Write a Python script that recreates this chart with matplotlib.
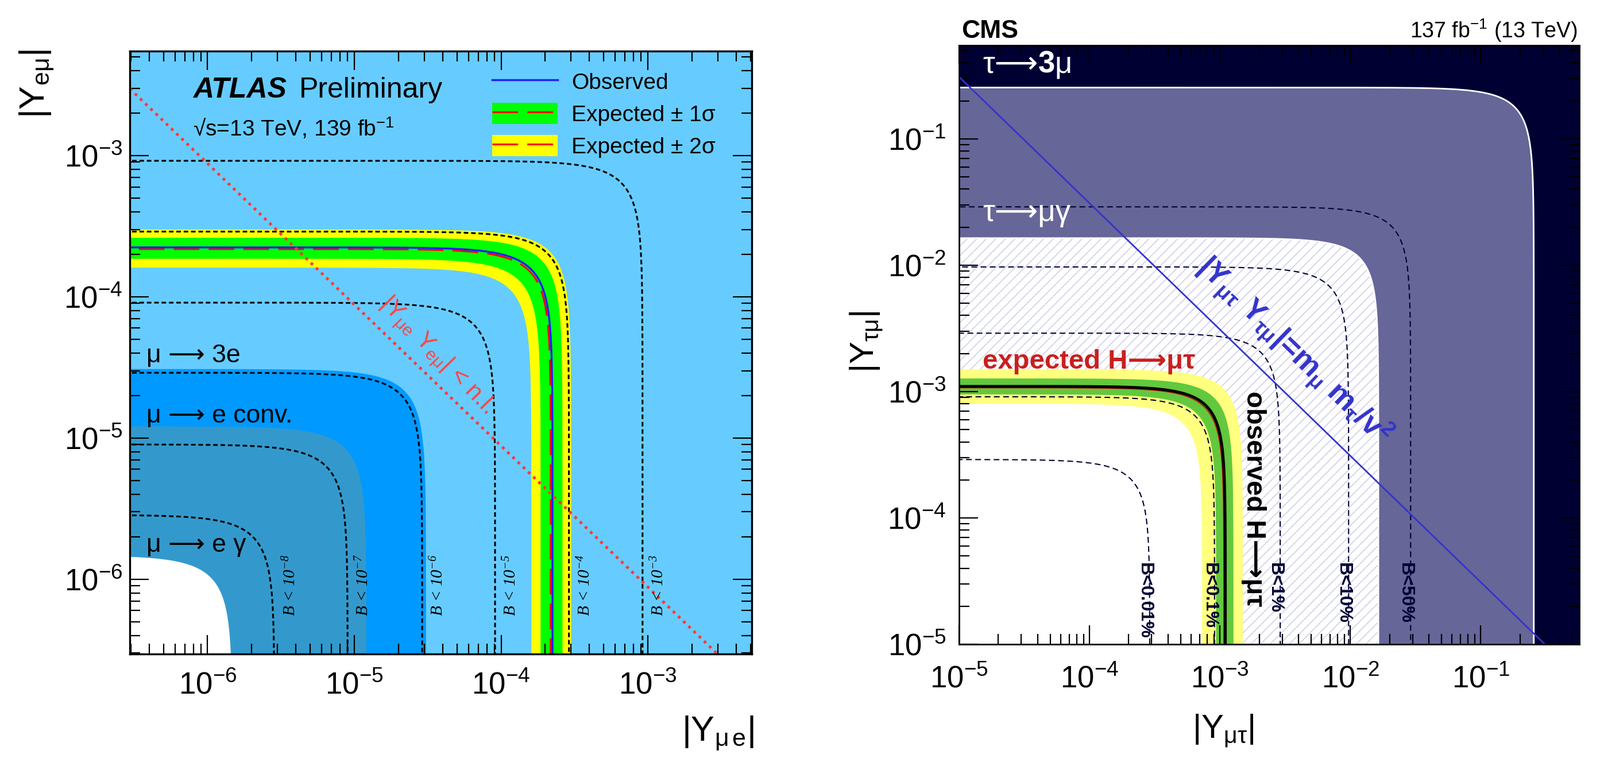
#two LFV Yukawa limit plots side by side: ATLAS e-mu and CMS mu-tau
import matplotlib
matplotlib.use("Agg")
import matplotlib.pyplot as plt
import numpy as np
from matplotlib.patches import Patch
from matplotlib.lines import Line2D

plt.rcParams['font.family'] = ['Liberation Sans', 'DejaVu Sans']
plt.rcParams['mathtext.fontset'] = 'custom'
plt.rcParams['mathtext.rm'] = 'Liberation Sans'
plt.rcParams['mathtext.it'] = 'Liberation Sans:italic'
plt.rcParams['mathtext.bf'] = 'Liberation Sans:bold'
plt.rcParams['mathtext.default'] = 'regular'
plt.rcParams['hatch.linewidth'] = 1.0

# ---- ATLAS (e mu) values ----
atlas_xlim = (2.95e-7, 5.1e-3)
atlas_ylim = (2.95e-7, 5.5e-3)
atlas_regions = [3.08e-5, 1.21e-5, 1.47e-6]          # mu->3e, mu->e conv, mu->e gamma
atlas_region_colors = ['#0099ff', '#3399cc', 'white']
atlas_region_labels = ['μ ⟶ 3e', 'μ ⟶ e conv.', 'μ ⟶ e γ']
atlas_br_radius = [2.85e-6, 9.0e-6, 2.9e-5, 9.1e-5, 2.9e-4, 9.2e-4]
atlas_br_labels = ['-8', '-7', '-6', '-5', '-4', '-3']
atlas_obs = 2.24e-4
atlas_exp = 2.18e-4
atlas_1s = (1.86e-4, 2.62e-4)
atlas_2s = (1.61e-4, 3.0e-4)
atlas_nl = 8.8e-10     # |Y_mue Y_emu| = m_e m_mu / v^2

# ---- CMS (mu tau) values ----
cms_xlim = (1e-5, 0.57)
cms_ylim = (1e-5, 0.55)
cms_tau3mu = 0.255
cms_taumugamma = 0.0164
cms_br_radius = [2.9e-4, 9.1e-4, 2.9e-3, 9.7e-3, 0.029]
cms_br_labels = ['B<0.01%', 'B<0.1%', 'B<1%', 'B<10%', 'B<50%']
cms_obs = (1.1e-3, 1.1e-3)          # (vertical, horizontal)
cms_exp = (1.07e-3, 1.07e-3)
cms_1s_lo, cms_1s_hi = (0.935e-3, 0.95e-3), (1.27e-3, 1.27e-3)
cms_2s_lo, cms_2s_hi = (0.73e-3, 0.80e-3), (1.5e-3, 1.5e-3)
cms_nl = 3.1e-6       # |Y_mutau Y_taumu| = m_mu m_tau / v^2


def corner(cx, cy, lo=1e-6, n=300):
    # (x/cx)^2 + (y/cy)^2 = 1, sampled evenly on log axes
    t = np.logspace(np.log10(lo), np.log10(np.sqrt(0.5)), n)
    u = np.concatenate([t, np.sqrt(1 - t[::-1] ** 2)])
    v = np.concatenate([np.sqrt(1 - t ** 2), t[::-1]])
    return cx * u, cy * v


def fill_inside(ax, cx, cy, **kw):
    x, y = corner(cx, cy)
    ax.fill(np.append(x, x[0]), np.append(y, y[-1]), **kw)


def fill_band(ax, lo, hi, **kw):
    xo, yo = corner(*hi)
    xi, yi = corner(*lo)
    ax.fill(np.concatenate([xo, xi[::-1]]), np.concatenate([yo, yi[::-1]]), **kw)


def style_axes(ax, xpad, ypad, spine_lw):
    ax.set_xscale('log')
    ax.set_yscale('log')
    ax.tick_params(which='both', direction='in', top=True, right=True, width=1.6)
    ax.tick_params(which='major', length=24, labelsize=38)
    ax.tick_params(which='minor', length=13)
    ax.tick_params(axis='x', pad=xpad)
    ax.tick_params(axis='y', pad=ypad)
    for s in ax.spines.values():
        s.set_linewidth(spine_lw)
        s.set_zorder(5)


fig = plt.figure(figsize=(27.86, 13.41), dpi=100)

# ================= ATLAS =================
ax = fig.add_axes([0.0811, 0.1506, 0.3887, 0.7830])
style_axes(ax, 22, 9, 2.4)
ax.set_facecolor('#66ccff')
ax.set_xlim(*atlas_xlim)
ax.set_ylim(*atlas_ylim)

for c, col in zip(atlas_regions, atlas_region_colors):
    fill_inside(ax, c, c, facecolor=col, edgecolor='none')
fill_band(ax, (atlas_2s[0],) * 2, (atlas_2s[1],) * 2, facecolor='#ffff00', edgecolor='none')
fill_band(ax, (atlas_1s[0],) * 2, (atlas_1s[1],) * 2, facecolor='#00ff00', edgecolor='none')

for c in atlas_br_radius:
    x, y = corner(c, c)
    ax.plot(x, y, color='black', lw=2.2, ls=(0, (2.6, 1.6)))

x, y = corner(atlas_exp, atlas_exp)
ax.plot(x, y, color='#ff0000', lw=2.3, ls=(0, (14, 5)))
x, y = corner(atlas_obs, atlas_obs)
ax.plot(x, y, color='#2020ff', lw=2.5)

xs = np.logspace(np.log10(atlas_xlim[0]), np.log10(atlas_xlim[1]), 200)
ax.plot(xs, atlas_nl / xs, color='#ff3b3b', lw=3.6, ls=(0, (1, 1.5)))

# labels
trans = ax.get_xaxis_transform()
for c, e in zip(atlas_br_radius, atlas_br_labels):
    ax.text(c * 10 ** 0.11, 0.063, 'B < 10$^{' + e.replace('-', '−') + '}$', transform=trans,
            rotation=90, ha='center', va='bottom', fontsize=21,
            family=['Liberation Serif', 'DejaVu Serif'], style='italic')

for lab, yy in zip(atlas_region_labels, [0.484, 0.384, 0.170]):
    ax.text(0.027, yy, lab, transform=ax.transAxes, fontsize=32, va='baseline')

ax.text(0.1016, 0.923, 'ATLAS', transform=ax.transAxes, fontsize=36,
        weight='bold', style='italic', va='baseline')
ax.text(0.272, 0.923, 'Preliminary', transform=ax.transAxes, fontsize=36, va='baseline')
ax.text(0.1016, 0.859, '√s=13 TeV, 139 fb$^{-1}$', transform=ax.transAxes,
        fontsize=28, va='baseline')

p1 = ax.transData.transform((1e-5, atlas_nl / 1e-5))
p2 = ax.transData.transform((1e-4, atlas_nl / 1e-4))
ang = np.degrees(np.arctan2(p2[1] - p1[1], p2[0] - p1[0]))
ax.text(3.6e-5, 1.55 * atlas_nl / 3.6e-5, '|Y$_{μe}$ Y$_{eμ}$| < n.l.', color='#ff4545',
        fontsize=31, rotation=ang - 2, rotation_mode='anchor', ha='center', va='center')

handles = [Line2D([], [], color='#2020ff', lw=2.5),
           (Patch(facecolor='#00ff00', edgecolor='none'),
            Line2D([], [], color='#ff0000', lw=2.3, ls=(0, (14, 5)))),
           (Patch(facecolor='#ffff00', edgecolor='none'),
            Line2D([], [], color='#ff0000', lw=2.3, ls=(0, (14, 5))))]
ax.legend(handles, ['Observed', 'Expected ± 1σ', 'Expected ± 2σ'], loc='upper left',
          bbox_to_anchor=(0.583, 0.968), frameon=False, fontsize=28, handlelength=2.93,
          handleheight=1.1, labelspacing=0.42, handletextpad=0.62, borderpad=0,
          borderaxespad=0)

fig.text(0.0115, 0.936, '|Y$_{eμ}$|', rotation=90, ha='left', va='top', fontsize=44)
fig.text(0.4713, 0.0716, '|Y$_{μ\\,e}$|', ha='right', va='top', fontsize=44)

# ================= CMS =================
ax = fig.add_axes([0.5994, 0.1633, 0.3877, 0.7778])
style_axes(ax, 26, 16, 2.0)
ax.set_facecolor('#000033')
ax.set_xlim(*cms_xlim)
ax.set_ylim(*cms_ylim)

fill_inside(ax, cms_tau3mu, cms_tau3mu, facecolor='#666699', edgecolor='none')
fill_inside(ax, cms_taumugamma, cms_taumugamma, facecolor='white', edgecolor='none')
fill_inside(ax, cms_taumugamma, cms_taumugamma, facecolor='none', edgecolor='#c8c8e6',
            hatch='//', linewidth=0)
for c in [cms_tau3mu, cms_taumugamma]:
    x, y = corner(c, c)
    ax.plot(x, y, color='white', lw=2.0)

fill_band(ax, cms_2s_lo, cms_2s_hi, facecolor='#ffff80', edgecolor='none')
fill_band(ax, cms_1s_lo, cms_1s_hi, facecolor='#62c83d', edgecolor='none')
fill_inside(ax, *cms_2s_lo, facecolor='white', edgecolor='none')

for c in cms_br_radius:
    x, y = corner(c, c)
    ax.plot(x, y, color='#000033', lw=1.5, ls=(0, (4.8, 2.9)))

x, y = corner(*cms_exp)
ax.plot(x, y, color='#dd0000', lw=1.0)
x, y = corner(*cms_obs)
ax.plot(x, y, color='black', lw=3.6)

xs = np.logspace(np.log10(cms_xlim[0]), np.log10(cms_xlim[1]), 200)
ax.plot(xs, cms_nl / xs, color='#3333cc', lw=2.0)

trans = ax.get_xaxis_transform()
for c, lab in zip(cms_br_radius, cms_br_labels):
    ax.text(c * 10 ** -0.04, 0.136, lab, transform=trans, rotation=-90, ha='center',
            va='top', fontsize=23, weight='bold', color='#000033')

# tau -> 3mu, with a bold 3, built from three chained texts
t1 = ax.text(0.038, 0.954, 'τ⟶', transform=ax.transAxes, fontsize=38, color='white',
             va='baseline')
t2 = ax.annotate('3', xy=(1, 0), xycoords=t1, fontsize=38, color='white',
                 weight='bold', ha='left', va='bottom')
ax.annotate('μ', xy=(1, 0), xycoords=t2, fontsize=38, color='white', ha='left',
            va='bottom')
ax.text(0.038, 0.707, 'τ⟶μγ', transform=ax.transAxes, fontsize=38, color='white',
        va='baseline')
ax.text(0.038, 0.460, 'expected H⟶μτ', transform=ax.transAxes, fontsize=34,
        weight='bold', color='#c8201e', va='baseline')
ax.text(0.475, 0.423, 'observed H⟶μτ', transform=ax.transAxes, fontsize=34,
        weight='bold', color='black', rotation=-90, ha='center', va='top')

p1 = ax.transData.transform((1e-4, cms_nl / 1e-4))
p2 = ax.transData.transform((1e-3, cms_nl / 1e-3))
ang = np.degrees(np.arctan2(p2[1] - p1[1], p2[0] - p1[0]))
ax.text(3.7e-3, 2.5 * cms_nl / 3.7e-3, '|Y$_{μτ}$ Y$_{τμ}$|=m$_{μ}$ m$_{τ}$/v$^{2}$',
        color='#3333cc', fontsize=38, weight='bold', rotation=ang, rotation_mode='anchor',
        ha='center', va='center')

ax.text(0.004, 1.012, 'CMS', transform=ax.transAxes, fontsize=32, weight='bold',
        va='baseline')
ax.text(0.997, 1.012, '137 fb$^{-1}$ (13 TeV)', transform=ax.transAxes, fontsize=27,
        ha='right', va='baseline')

fig.text(0.7452, 0.0738, '|Y$_{μτ}$|', ha='left', va='top', fontsize=42)
fig.text(0.5305, 0.556, '|Y$_{τμ}$|', rotation=90, ha='left', va='center', fontsize=42)

fig.savefig('out.png', dpi=100)
